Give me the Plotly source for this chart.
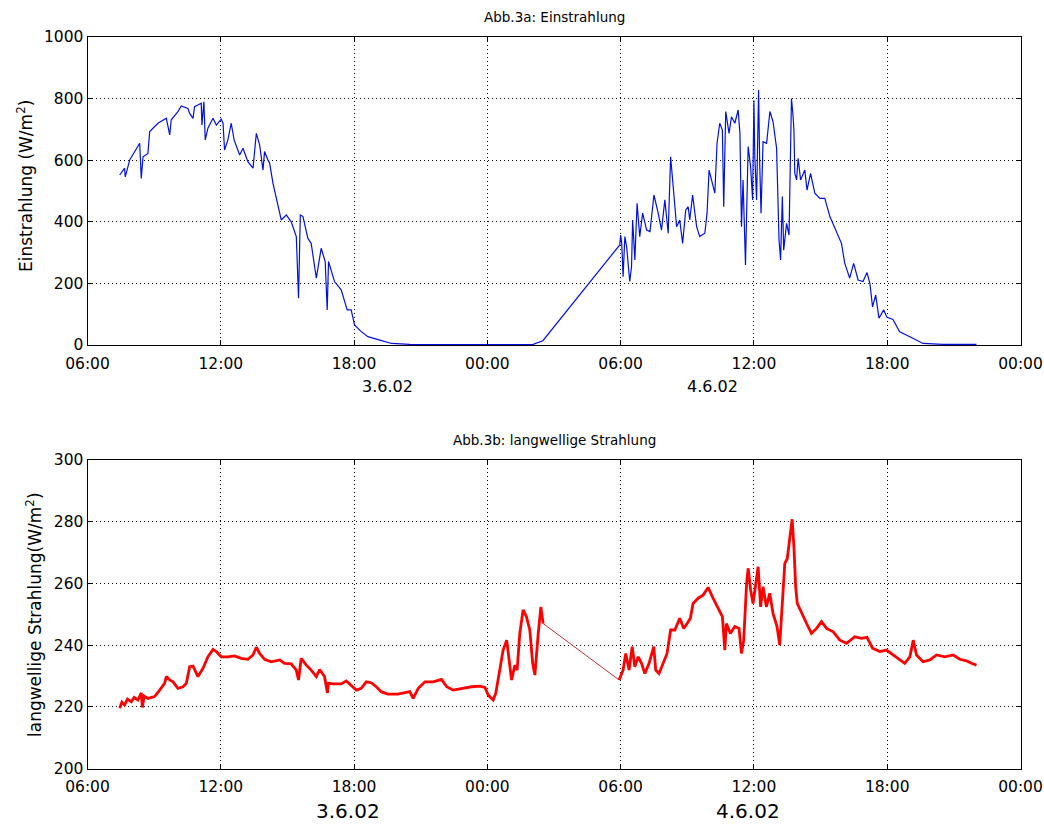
import pandas as pd
import plotly.graph_objects as go

# Time base: hours counted from 3.6.02 06:00
T0 = pd.Timestamp("2002-06-03 06:00")

# --- Abb.3a: Einstrahlung (W/m^2) ---
ein_h = [1.45, 1.67, 1.70, 1.90, 2.10, 2.35, 2.42, 2.50, 2.72, 2.80, 3.17, 3.55, 3.70, 3.77,
         4.07, 4.22, 4.52, 4.60, 4.75, 4.82, 4.97, 5.12, 5.15, 5.24, 5.30, 5.42, 5.65, 5.80,
         6.02, 6.10, 6.17, 6.32, 6.47, 6.60, 6.85, 7.00, 7.22, 7.45, 7.60, 7.75, 7.90, 7.97,
         8.12, 8.20, 8.35, 8.57, 8.72, 8.95, 9.17, 9.40, 9.50, 9.58, 9.70, 9.92, 10.07, 10.30,
         10.52, 10.70, 10.79, 10.85, 11.12, 11.42, 11.69, 11.87, 12.02, 12.30, 12.62, 13.16,
         13.69, 14.50, 16.00, 18.00, 20.06, 20.50,
         23.96, 24.00, 24.05, 24.11, 24.19, 24.27, 24.41, 24.49, 24.54, 24.64, 24.74, 24.86,
         24.99, 25.17, 25.32, 25.50, 25.69, 25.84, 25.99, 26.14, 26.25, 26.34, 26.52, 26.66,
         26.79, 26.93, 27.04, 27.11, 27.24, 27.42, 27.56, 27.79, 27.89, 27.98, 28.16, 28.24,
         28.34, 28.46, 28.58, 28.64, 28.73, 28.88, 28.99, 29.14, 29.29, 29.37, 29.44, 29.51,
         29.62, 29.74, 29.85, 29.94, 30.00, 30.04, 30.12, 30.21, 30.26, 30.32, 30.41, 30.57,
         30.72, 30.86, 31.02, 31.13, 31.20, 31.28, 31.34, 31.47, 31.58, 31.69, 31.76, 31.80,
         31.84, 31.92, 31.99, 32.10, 32.29, 32.39, 32.55, 32.74, 32.97, 33.19, 33.42, 33.64,
         33.94, 34.09, 34.31, 34.49, 34.69, 34.91, 35.09, 35.22, 35.34, 35.48, 35.63, 35.84,
         35.99, 36.26, 36.56, 37.02, 37.61, 38.50, 40.02]
ein_v = [552, 574, 546, 601, 625, 655, 541, 611, 622, 693, 720, 736, 682, 731,
         758, 776, 768, 752, 736, 774, 779, 785, 714, 790, 666, 704, 736, 714,
         733, 720, 633, 666, 720, 666, 617, 639, 595, 574, 687, 649, 568, 628,
         601, 590, 525, 449, 406, 422, 400, 352, 152, 422, 417, 346, 330, 217,
         314, 271, 114, 271, 206, 179, 114, 114, 65, 45, 27, 16,
         5, 2, 1, 1, 2, 14,
         325, 357, 330, 222, 352, 319, 206, 254, 406, 276, 460, 352,
         428, 373, 368, 487, 428, 373, 471, 363, 611, 536, 384, 406,
         330, 438, 449, 406, 487, 384, 352, 363, 428, 568, 514, 493,
         655, 720, 698, 449, 758, 687, 741, 720, 763, 687, 384, 536,
         260, 644, 579, 471, 795, 611, 471, 828, 590, 428, 660, 655,
         758, 725, 639, 341, 276, 482, 308, 395, 357, 800, 745, 698,
         557, 536, 606, 536, 568, 503, 557, 493, 476, 476, 417, 379,
         330, 265, 217, 265, 211, 206, 235, 200, 124, 162, 87, 114,
         90, 83, 43, 27, 5, 2, 2]

# --- Abb.3b: langwellige Strahlung (W/m^2), before and after the night gap ---
lw1_h = [1.45, 1.55, 1.67, 1.80, 1.97, 2.10, 2.27, 2.42, 2.47, 2.55, 2.72, 3.02, 3.25, 3.47,
         3.55, 3.70, 3.85, 4.07, 4.30, 4.45, 4.60, 4.75, 4.97, 5.20, 5.42, 5.65, 5.80, 6.02,
         6.32, 6.62, 6.92, 7.22, 7.45, 7.60, 7.75, 7.97, 8.27, 8.65, 8.87, 9.17, 9.40, 9.50,
         9.62, 9.85, 10.07, 10.30, 10.45, 10.67, 10.80, 10.85, 11.05, 11.42, 11.65, 11.87,
         12.10, 12.32, 12.55, 12.77, 13.00, 13.22, 13.52, 13.97, 14.35, 14.51, 14.66, 14.89,
         15.19, 15.56, 15.94, 16.17, 16.46, 16.91, 17.29, 17.66, 17.89, 18.04, 18.26, 18.38,
         18.56, 18.71, 18.87, 18.94, 19.09, 19.24, 19.34, 19.46, 19.61, 19.76, 19.91, 20.04,
         20.14, 20.29, 20.41, 20.51]
lw1_v = [219.5, 221.5, 220.6, 222.5, 221.6, 223.0, 222.2, 224.5, 219.8, 223.5, 222.7, 223.3,
         225.4, 227.6, 229.8, 228.7, 228.1, 226.0, 226.5, 227.6, 233.0, 233.2, 229.8, 232.5,
         236.2, 238.6, 237.9, 236.2, 236.2, 236.5, 235.7, 235.4, 236.8, 239.3, 237.3, 235.4,
         234.6, 235.2, 234.1, 233.9, 231.9, 228.7, 235.7, 233.5, 231.9, 229.8, 232.1, 229.8,
         224.5, 227.6, 227.4, 227.4, 228.4, 227.0, 225.4, 226.0, 228.1, 227.8, 226.5, 224.9,
         224.1, 224.1, 224.6, 224.9, 222.7, 226.0, 228.1, 228.1, 228.9, 226.5, 225.4, 226.0,
         226.5, 226.7, 226.3, 223.8, 222.2, 224.4, 232.5, 238.4, 241.6, 237.9, 228.7, 233.5,
         231.9, 243.8, 251.4, 249.2, 244.9, 234.1, 230.3, 243.8, 252.4, 247.0]
lw2_h = [23.93, 24.11, 24.23, 24.38, 24.52, 24.64, 24.79, 24.94, 25.09, 25.28, 25.49, 25.58,
         25.73, 25.91, 26.09, 26.25, 26.44, 26.66, 26.84, 26.99, 27.14, 27.26, 27.49, 27.71,
         27.94, 28.16, 28.39, 28.58, 28.69, 28.76, 28.94, 29.14, 29.33, 29.44, 29.54, 29.67,
         29.74, 29.85, 29.96, 30.07, 30.19, 30.30, 30.41, 30.56, 30.71, 30.86, 31.04, 31.16,
         31.29, 31.39, 31.50, 31.65, 31.72, 31.80, 31.88, 31.95, 32.14, 32.37, 32.59, 32.82,
         33.04, 33.27, 33.57, 33.87, 34.17, 34.54, 34.84, 35.09, 35.34, 35.67, 35.97, 36.26,
         36.56, 36.79, 37.02, 37.17, 37.32, 37.61, 37.92, 38.22, 38.59, 38.97, 39.27, 39.57,
         39.79, 40.02]
lw2_v = [228.7, 231.9, 237.3, 231.9, 239.5, 233.0, 236.2, 234.1, 230.8, 234.1, 239.5, 231.9,
         230.8, 234.1, 237.3, 244.9, 244.9, 248.7, 245.4, 247.0, 248.7, 253.5, 255.2, 256.2,
         258.7, 255.2, 251.9, 249.2, 238.4, 247.0, 243.8, 246.0, 245.4, 237.3, 241.6, 260.0,
         264.9, 257.9, 253.5, 259.5, 265.4, 252.4, 258.9, 252.4, 256.8, 250.3, 246.0, 240.0,
         254.6, 266.5, 268.0, 276.2, 280.8, 271.9, 258.9, 253.5, 250.3, 247.0, 243.8, 245.4,
         247.6, 245.4, 244.3, 241.6, 240.6, 242.7, 242.2, 242.5, 239.0, 237.9, 238.4, 236.8,
         235.2, 234.1, 236.2, 241.6, 236.8, 234.6, 235.2, 236.8, 236.2, 236.8, 235.4, 234.9,
         234.1, 233.5]

ein_ticks = [0, 200, 400, 600, 800, 1000]
lw_ticks = [200, 220, 240, 260, 280, 300]
day_labels = ["3.6.02", "4.6.02"]


def to_time(hours):
    return [T0 + pd.Timedelta(hours=h) for h in hours]


FONT = "DejaVu Sans, Liberation Sans, Arial, sans-serif"
W, H = 1044, 825
TICK = 15.5

fig = go.Figure()

fig.add_trace(go.Scatter(x=to_time(ein_h), y=ein_v, mode="lines",
                         line=dict(color="#0010e0", width=1.2),
                         xaxis="x", yaxis="y", showlegend=False))

red = "#ff0000"
fig.add_trace(go.Scatter(x=to_time(lw1_h), y=lw1_v, mode="lines",
                         line=dict(color=red, width=2.8),
                         xaxis="x2", yaxis="y2", showlegend=False))
fig.add_trace(go.Scatter(x=to_time([lw1_h[-1], lw2_h[0]]), y=[lw1_v[-1], lw2_v[0]],
                         mode="lines", line=dict(color="#c03030", width=1),
                         xaxis="x2", yaxis="y2", showlegend=False))
fig.add_trace(go.Scatter(x=to_time(lw2_h), y=lw2_v, mode="lines",
                         line=dict(color=red, width=2.8),
                         xaxis="x2", yaxis="y2", showlegend=False))

xr = [T0, T0 + pd.Timedelta(hours=42)]
xdom = [87.5 / W, 1020.5 / W]

common_x = dict(type="date", range=xr, dtick=6 * 3600 * 1000, tick0=T0,
                tickformat="%H:%M", showgrid=True, gridcolor="#000000",
                griddash="1px,3px", gridwidth=1, showline=True, linecolor="black",
                linewidth=1, mirror="ticks", ticks="inside", ticklen=5,
                tickcolor="black", zeroline=False, automargin=False,
                ticklabelstandoff=4,
                tickfont=dict(family=FONT, size=TICK, color="black"))
common_y = dict(showgrid=True, gridcolor="#000000", griddash="1px,3px", gridwidth=1,
                showline=True, linecolor="black", linewidth=1, mirror="ticks",
                ticks="inside", ticklen=5, tickcolor="black", zeroline=False,
                automargin=False,
                tickfont=dict(family=FONT, size=TICK, color="black"))

fig.update_layout(
    width=W, height=H,
    margin=dict(l=0, r=0, t=0, b=0, autoexpand=False),
    paper_bgcolor="white", plot_bgcolor="white",
    xaxis=dict(domain=xdom, anchor="y", **common_x),
    yaxis=dict(domain=[1 - 345 / H, 1 - 37 / H], anchor="x", range=[0, 1000],
               tickvals=ein_ticks, **common_y),
    xaxis2=dict(domain=xdom, anchor="y2", **common_x),
    yaxis2=dict(domain=[1 - 768.5 / H, 1 - 460 / H], anchor="x2", range=[200, 300],
                tickvals=lw_ticks, **common_y),
)

ann = [
    dict(text="Abb.3a: Einstrahlung", x=554 / W, y=1 - 17 / H, size=13.5),
    dict(text="Abb.3b: langwellige Strahlung", x=554 / W, y=1 - 440 / H, size=13.5),
    dict(text=day_labels[0], x=387 / W, y=1 - 386 / H, size=16),
    dict(text=day_labels[1], x=712 / W, y=1 - 386 / H, size=16),
    dict(text=day_labels[0], x=348 / W, y=1 - 811 / H, size=20),
    dict(text=day_labels[1], x=748 / W, y=1 - 811 / H, size=20),
]
for a in ann:
    fig.add_annotation(text=a["text"], x=a["x"], y=a["y"], xref="paper", yref="paper",
                       showarrow=False, xanchor="center", yanchor="middle",
                       font=dict(family=FONT, size=a["size"], color="black"))

fig.add_annotation(text="Einstrahlung (W/m<sup>2</sup>)", x=25 / W, y=1 - 186 / H,
                   xref="paper", yref="paper", showarrow=False, textangle=-90,
                   xanchor="center", yanchor="middle",
                   font=dict(family=FONT, size=17, color="black"))
fig.add_annotation(text="langwellige Strahlung(W/m<sup>2</sup>)", x=34 / W, y=1 - 615 / H,
                   xref="paper", yref="paper", showarrow=False, textangle=-90,
                   xanchor="center", yanchor="middle",
                   font=dict(family=FONT, size=17, color="black"))

fig.write_html("out.html")
